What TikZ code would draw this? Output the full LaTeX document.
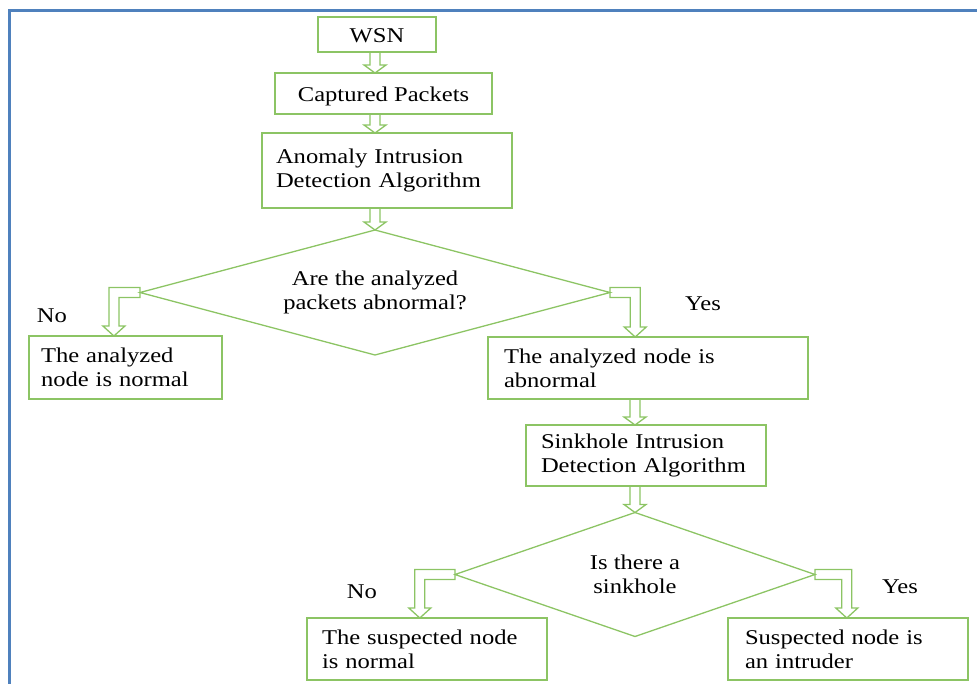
\documentclass[tikz,border=0pt]{standalone}
\usepackage{fontspec}
\setmainfont[FakeStretch=1.17]{Liberation Serif}
\usetikzlibrary{shapes.geometric,calc}

\definecolor{flowgreen}{RGB}{140,196,100}
\definecolor{frameblue}{RGB}{79,129,189}

\tikzset{
  txt/.style={font=\fontsize{21}{24}\selectfont},
  blk/.style 2 args={draw=flowgreen, line width=1.5pt, rectangle, inner sep=0pt,
    outer sep=0pt, minimum width=#1, minimum height=#2, txt},
  lbox/.style={align=left, text width=#1},
  oneline/.style={text height=16pt, text depth=1pt},
  decision/.style 2 args={draw=flowgreen, line width=1.3pt, diamond, aspect=3.76,
    inner sep=0pt, outer sep=0pt, minimum width=#1, minimum height=#2,
    align=center, txt},
  lbl/.style={txt, inner sep=0pt},
  hollow/.style={draw=flowgreen, line width=1.3pt, line join=miter},
  frameline/.style={draw=frameblue, line width=3pt}
}

% straight hollow block arrow from #1 down to #2, shaft on the x of #3.north
\newcommand\vblock[3]{%
  \draw[hollow] let \p1=(#1.south), \p2=(#2.north), \p3=(#3.north) in
    (\x3-5pt,\y1) -- (\x3-5pt,\y2+8pt) -- (\x3-11pt,\y2+8pt) -- (\x3,\y2)
    -- (\x3+11pt,\y2+8pt) -- (\x3+5pt,\y2+8pt) -- (\x3+5pt,\y1);}

% hollow elbow arrow from the west corner of #1 to the top edge of #2 at fraction #3
\newcommand\elbowL[3]{%
  \draw[hollow] let \p1=(#1.west), \p2=($(#2.north west)!#3!(#2.north east)$) in
    (\x1,\y1+5pt) -- (\x2-5pt,\y1+5pt) -- (\x2-5pt,\y2+10pt) -- (\x2-11pt,\y2+10pt)
    -- (\x2,\y2) -- (\x2+11pt,\y2+10pt) -- (\x2+5pt,\y2+10pt) -- (\x2+5pt,\y1-5pt)
    -- (\x1,\y1-5pt) -- cycle;}

% hollow elbow arrow from the east corner of #1 to the top edge of #2 at fraction #3
\newcommand\elbowR[3]{%
  \draw[hollow] let \p1=(#1.east), \p2=($(#2.north west)!#3!(#2.north east)$) in
    (\x1,\y1+5pt) -- (\x2+5pt,\y1+5pt) -- (\x2+5pt,\y2+10pt) -- (\x2+11pt,\y2+10pt)
    -- (\x2,\y2) -- (\x2-11pt,\y2+10pt) -- (\x2-5pt,\y2+10pt) -- (\x2-5pt,\y1-5pt)
    -- (\x1,\y1-5pt) -- cycle;}

\begin{document}
\begin{tikzpicture}[x=1pt,y=-1pt]
  \useasboundingbox (0,0) rectangle (977,683);

  % outer frame
  \draw[frameline] (9,700) -- (9,10) -- (990,10);

  % process boxes
  \node[blk={118pt}{35pt}, oneline] (wsn) at (377,34.5) {WSN};
  \node[blk={217pt}{41pt}, oneline] (cap) at (383.5,93.5) {Captured Packets};
  \node[blk={250pt}{75pt}, lbox=222pt] (anom) at (387,170.5)
    {Anomaly Intrusion\\Detection Algorithm};

  \node[decision={470pt}{125pt}] (dia1) at (375,292.5)
    {Are the analyzed\\packets abnormal?};

  \node[blk={193pt}{63pt}, lbox=169pt] (norm1) at (125.5,367.5)
    {The analyzed\\node is normal};
  \node[blk={320pt}{62pt}, lbox=288pt] (abn) at (648,368)
    {The analyzed node is\\abnormal};
  \node[blk={240pt}{61pt}, lbox=210pt] (sink) at (646,455.5)
    {Sinkhole Intrusion\\Detection Algorithm};

  \node[decision={360pt}{124pt}] (dia2) at (635,574.5)
    {Is there a\\sinkhole};

  \node[blk={240pt}{62pt}, lbox=210pt] (norm2) at (427,649)
    {The suspected node\\is normal};
  \node[blk={240pt}{62pt}, lbox=206pt] (intr) at (848,649)
    {Suspected node is\\an intruder};

  % branch labels
  \node[lbl] (no1) at (52,316) {No};
  \node[lbl] (yes1) at (703,304) {Yes};
  \node[lbl] (no2) at (362,592) {No};
  \node[lbl] (yes2) at (900,587) {Yes};

  % connectors
  \vblock{wsn}{cap}{dia1}
  \vblock{cap}{anom}{dia1}
  \vblock{anom}{dia1}{dia1}
  \elbowL{dia1}{norm1}{0.44}
  \elbowR{dia1}{abn}{0.46}
  \vblock{abn}{sink}{dia2}
  \vblock{sink}{dia2}{dia2}
  \elbowL{dia2}{norm2}{0.47}
  \elbowR{dia2}{intr}{0.495}
\end{tikzpicture}
\end{document}
